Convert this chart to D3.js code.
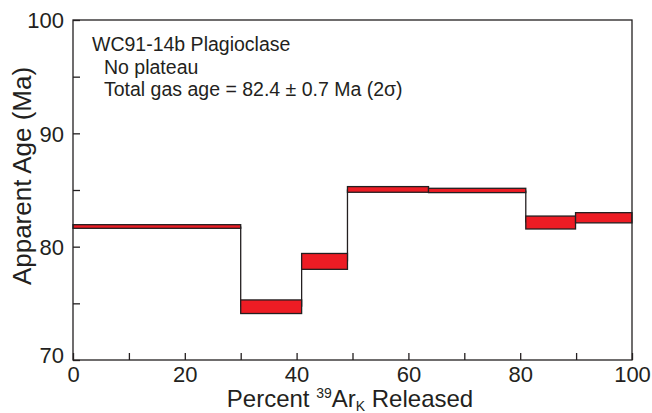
<!DOCTYPE html>
<html>
<head>
<meta charset="utf-8">
<script src="https://cdn.jsdelivr.net/npm/d3@7"></script>
<style>
    body {
        margin: 0;
        background: #fff;
    }
    svg text {
        font-family: "Liberation Sans", Arial, sans-serif;
        fill: #231f20;
    }
</style>
</head>
<body>
<div id="chart"></div>
<script>
// step boundaries (cumulative % 39ArK released)
let stepEdges = [0, 30, 40.9, 49.1, 63.6, 81.0, 89.9, 100];
// apparent age of each step (Ma) and 2 sigma error
let stepAges = [81.78, 74.7, 78.7, 85.05, 84.96, 82.13, 82.55];
let stepErrs = [0.16, 0.6, 0.7, 0.25, 0.19, 0.57, 0.45];

let xTicks = [0, 20, 40, 60, 80, 100];
let xMinorTicks = [10, 30, 50, 70, 90];
let yTicks = [70, 80, 90, 100];
let yMinorTicks = [75, 85, 95];

let noteLines = ["WC91-14b Plagioclase", "No plateau", "Total gas age = 82.4 \u00b1 0.7 Ma (2\u03c3)"];

let width = 652;
let height = 413;
let margin = {top: 20, right: 20, bottom: 53, left: 73};

let svg = d3.select("#chart")
    .append("svg")
    .attr("width", width)
    .attr("height", height);

let x = d3.scaleLinear()
    .domain([0, 100])
    .range([margin.left, width - margin.right]);

let y = d3.scaleLinear()
    .domain([70, 100])
    .range([height - margin.bottom, margin.top]);

let steps = stepAges.map((a, i) => {
    return {
        x0: stepEdges[i],
        x1: stepEdges[i + 1],
        age: a,
        err: stepErrs[i]
    };
});

// connecting verticals between steps
let g = svg.append("g");
g.selectAll("line.conn")
    .data(steps.slice(1))
    .enter()
    .append("line")
    .attr("class", "conn")
    .attr("x1", d => x(d.x0))
    .attr("x2", d => x(d.x0))
    .attr("y1", (d, i) => y(steps[i].age))
    .attr("y2", d => y(d.age))
    .attr("stroke", "#231f20")
    .attr("stroke-width", 1.3);

g.selectAll("rect.step")
    .data(steps)
    .enter()
    .append("rect")
    .attr("class", "step")
    .attr("x", d => x(d.x0))
    .attr("width", d => x(d.x1) - x(d.x0))
    .attr("y", d => y(d.age + d.err))
    .attr("height", d => y(d.age - d.err) - y(d.age + d.err))
    .attr("fill", "#ed1c24")
    .attr("stroke", "#231f20")
    .attr("stroke-width", 1.3);

// frame
svg.append("rect")
    .attr("x", x(0))
    .attr("y", y(100))
    .attr("width", x(100) - x(0))
    .attr("height", y(70) - y(100))
    .attr("fill", "none")
    .attr("stroke", "#231f20")
    .attr("stroke-width", 1.3);

// axes with inward ticks
let xAxis = d3.axisBottom(x)
    .tickValues(xTicks.concat(xMinorTicks))
    .tickSize(-7)
    .tickFormat(d => xTicks.indexOf(d) >= 0 ? d : "");

let gx = svg.append("g")
    .attr("transform", "translate(0," + y(70) + ")")
    .call(xAxis);
gx.select(".domain").remove();
gx.selectAll("line").attr("stroke", "#231f20").attr("stroke-width", 1.3);
gx.selectAll("text")
    .attr("y", 6)
    .attr("dy", "0.71em")
    .style("font-size", "22px");

let yAxis = d3.axisLeft(y)
    .tickValues(yTicks.concat(yMinorTicks))
    .tickSize(-7)
    .tickFormat(d => yTicks.indexOf(d) >= 0 ? d : "");

let gy = svg.append("g")
    .attr("transform", "translate(" + x(0) + ",0)")
    .call(yAxis);
gy.select(".domain").remove();
gy.selectAll("line").attr("stroke", "#231f20").attr("stroke-width", 1.3);
gy.selectAll("text")
    .attr("x", -9)
    .attr("dy", d => d === 70 ? "0.1em" : "0.35em")
    .style("font-size", "22px");

// axis titles
let xt = svg.append("text")
    .attr("x", 350)
    .attr("y", 407)
    .attr("text-anchor", "middle")
    .style("font-size", "24px");
xt.append("tspan").text("Percent ");
xt.append("tspan").text("39").attr("dy", -9).style("font-size", "14px");
xt.append("tspan").text("Ar").attr("dy", 9);
xt.append("tspan").text("K").attr("dy", 4).style("font-size", "14px");
xt.append("tspan").text(" Released").attr("dy", -4);

svg.append("text")
    .attr("transform", "translate(31,176) rotate(-90)")
    .attr("text-anchor", "middle")
    .style("font-size", "26px")
    .text("Apparent Age (Ma)");

// sample note
svg.selectAll("text.note")
    .data(noteLines)
    .enter()
    .append("text")
    .attr("class", "note")
    .attr("x", (d, i) => i === 0 ? 92 : 104)
    .attr("y", (d, i) => 51 + i * 22.7)
    .style("font-size", "19.5px")
    .text(d => d);
</script>
</body>
</html>
